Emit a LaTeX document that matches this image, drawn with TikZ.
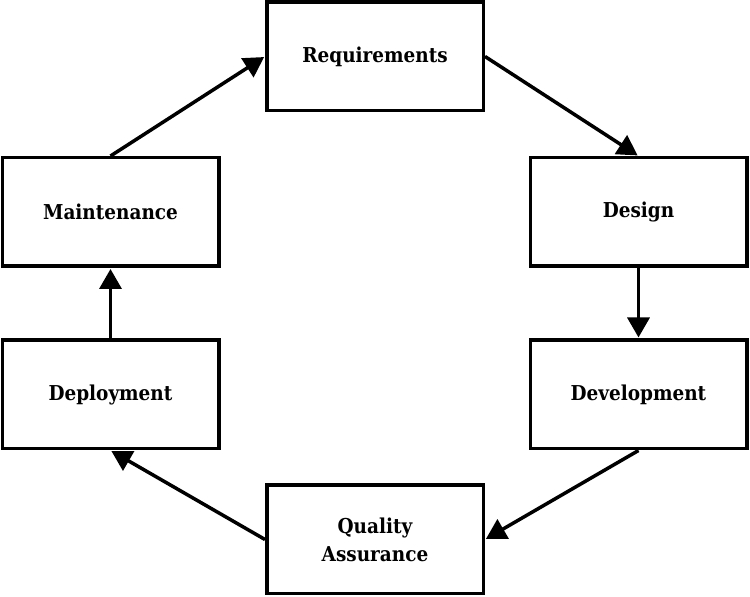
\documentclass[tikz,border=0pt]{standalone}
\usepackage{fontspec}
\setmainfont{DejaVu Serif}
\newfontfamily\stagefont{DejaVu Serif Condensed}
\usetikzlibrary{arrows.meta}
\begin{document}
\begin{tikzpicture}[x=1pt,y=1pt,
  stage/.style={draw=black,line width=3.5pt,fill=white,minimum width=216.5pt,minimum height=108.5pt,inner sep=0pt,align=center,font=\stagefont\bfseries\fontsize{20.5}{28}\selectfont},
  flow/.style={line width=3.5pt,-{Triangle[length=20pt,width=22pt]},shorten >=1pt}]
\useasboundingbox (0,0) rectangle (750,597);
\node[stage] (req) at (375,540.5) {Requirements};
\node[stage] (des) at (638.5,385) {Design};
\node[stage] (dev) at (638.5,202.5) {Development};
\node[stage] (qa) at (375,57.5) {Quality\\Assurance};
\node[stage] (dep) at (110.5,202.5) {Deployment};
\node[stage] (mai) at (110.5,385) {Maintenance};
\draw[flow] (req.east) -- (des.north);
\draw[flow] (des.south) -- (dev.north);
\draw[flow] (dev.south) -- (qa.east);
\draw[flow] (qa.west) -- (dep.south);
\draw[flow] (dep.north) -- (mai.south);
\draw[flow] (mai.north) -- (req.west);
\end{tikzpicture}
\end{document}
